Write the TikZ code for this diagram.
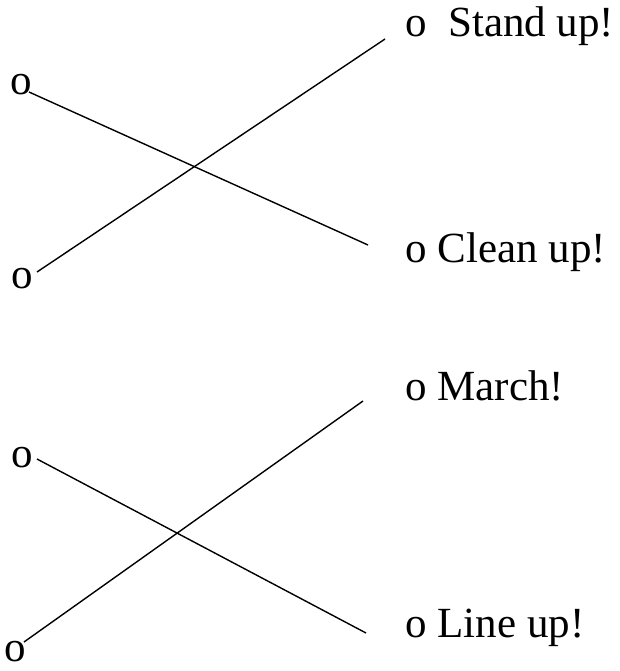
\documentclass[tikz,border=0pt]{standalone}
\usepackage{fontspec}
\setmainfont{Liberation Serif}
\begin{document}
\begin{tikzpicture}[x=1pt,y=-1pt,
        word/.style={inner sep=0pt,anchor=base west,font=\fontsize{43}{50}\selectfont},
        link/.style={line width=1.4pt}]
    \useasboundingbox (0,0) rectangle (619,671);
    %% first pair
    \node[word] (la) at (10,95) {o};
    \node[word] (lb) at (11,288) {o};
    \node[word] (ra) at (405,37) {o\ \ Stand up!};
    \node[word] (rb) at (405,262) {o Clean up!};
    \coordinate (la-end) at (29,92);
    \coordinate (lb-end) at (37,272);
    \coordinate (ra-end) at (385,39);
    \coordinate (rb-end) at (368,245);
    \draw[link] (la-end) -- (rb-end);
    \draw[link] (lb-end) -- (ra-end);
    %% second pair
    \node[word] (lc) at (11,467) {o};
    \node[word] (ld) at (4,661) {o};
    \node[word] (rc) at (405,400) {o March!};
    \node[word] (rd) at (405,637) {o Line up!};
    \coordinate (lc-end) at (37,459);
    \coordinate (ld-end) at (24,642);
    \coordinate (rc-end) at (363,401);
    \coordinate (rd-end) at (366,633);
    \draw[link] (lc-end) -- (rd-end);
    \draw[link] (ld-end) -- (rc-end);
\end{tikzpicture}
\end{document}
